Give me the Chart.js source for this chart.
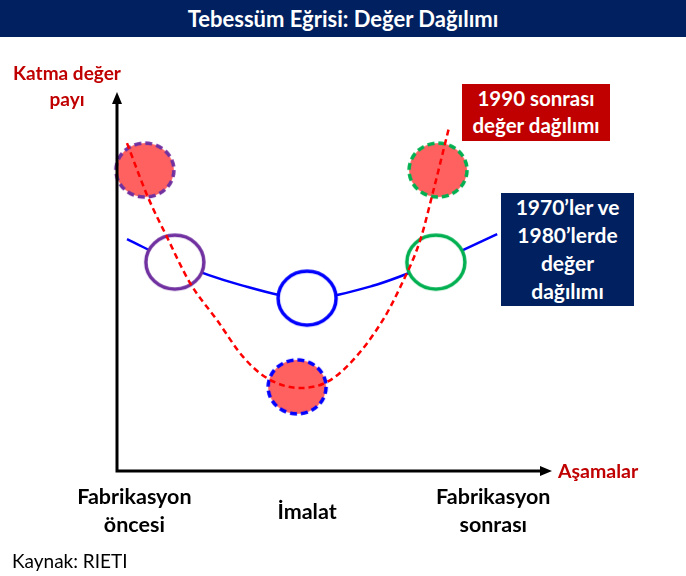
<!DOCTYPE html>
<html lang="tr">
<head>
<meta charset="utf-8">
<title>Tebessüm Eğrisi: Değer Dağılımı</title>
<script src="https://cdn.jsdelivr.net/npm/chart.js@4.4.1/dist/chart.umd.min.js"></script>
<style>
  html, body { margin: 0; padding: 0; background: #fff; }
  body { width: 686px; height: 576px; position: relative; overflow: hidden; font-family: Lato, "Open Sans", sans-serif; }
  #wrap { position: absolute; left: 0; top: 0; width: 686px; height: 576px; }
  .bar { position: absolute; left: 0; top: 0; width: 686px; height: 37px; background: #002060; color: #fff;
         font-weight: 700; font-size: 22px; line-height: 38px; text-align: center; }
  .lbl { position: absolute; font-weight: 700; text-align: center; white-space: nowrap; }
  .red { color: #c00000; }
  .box { position: absolute; color: #fff; font-weight: 700; text-align: center; font-size: 21px; }
  .src { position: absolute; left: 12px; top: 549px; font-size: 19px; color: #000; }
</style>
</head>
<body>
<div id="wrap"><canvas id="smile" width="686" height="576"></canvas></div>
<div class="bar">Tebessüm Eğrisi: Değer Dağılımı</div>
<div class="lbl red" style="left:2px;top:60px;width:130px;font-size:19px;line-height:26px">Katma değer<br>payı</div>
<div class="lbl red" style="left:558px;top:459px;font-size:19.5px">Aşamalar</div>
<div class="box" style="left:462px;top:84px;width:148px;height:57px;background:#c00000;line-height:27px;padding-top:1px;box-sizing:border-box;font-size:20.5px">1990 sonrası<br>değer dağılımı</div>
<div class="box" style="left:501px;top:193px;width:133px;height:113px;background:#002060;line-height:28px;padding-top:0px;box-sizing:border-box">1970’ler ve<br>1980’lerde<br>değer<br>dağılımı</div>
<div id="stages"></div>
<div class="src">Kaynak: RIETI</div>
<script>
// stage names under the x axis and where they sit on the 0-100 axis
const stageLabels = [['Fabrikasyon', 'öncesi'], ['İmalat'], ['Fabrikasyon', 'sonrası']];
const stageLabelX = [4, 43.7, 86.5];

// 1970s-80s value curve (blue, flat smile)
const oldCurveX = [2.3, 13.3, 28.3, 43.7, 58.6, 73.3, 87.4];
const oldCurveY = [61.2, 55.1, 49.1, 45.6, 48.8, 55.1, 62.5];
// post-1990 value curve (red dashed, deep smile)
const newCurveX = [2.3, 7.1, 11.5, 16.8, 23.0, 29.0, 34.5, 42.1, 48.3, 54.3, 61.1, 65.1, 69.7, 72.6, 76.3];
const newCurveY = [86.5, 72.3, 61.7, 49.6, 39.8, 30.1, 24.5, 21.9, 23.5, 29.3, 39.8, 48.5, 60.9, 73.4, 90.5];

// stage markers: open circles (old), filled circles (new)
const oldStageX = [13.3, 43.7, 73.3];
const oldStageY = [55.1, 45.6, 55.1];
const newStageX = [6.4, 41.4, 73.8];
const newStageY = [79.4, 22.2, 79.4];

const stageColors = ['#7030a0', '#0000ff', '#00b050'];

function pts(xs, ys) { return xs.map((x, i) => ({ x, y: ys[i] })); }

// ellipse marker drawn on a small canvas, used as the point style
function ringImg(stroke, fill, dashed) {
  const rx = 29, ry = 27, lw = 3.5;
  const c = document.createElement('canvas');
  c.width = Math.ceil(2 * rx + lw + 4); c.height = Math.ceil(2 * ry + lw + 4);
  const g = c.getContext('2d');
  g.beginPath();
  g.ellipse(c.width / 2, c.height / 2, rx, ry, 0, 0, Math.PI * 2);
  g.fillStyle = fill; g.fill();
  g.lineWidth = lw; g.strokeStyle = stroke;
  if (dashed) g.setLineDash([7, 4]);
  g.stroke();
  return c;
}

const oldImgs = stageColors.map(c => ringImg(c, '#ffffff', false));
const newImgs = stageColors.map(c => ringImg(c, '#ff6161', true));

// black axes with arrow heads, drawn over the data
const axesPlugin = {
  id: 'axes',
  afterDatasetsDraw(chart) {
    const { ctx, chartArea: a } = chart;
    ctx.save();
    ctx.strokeStyle = '#000'; ctx.fillStyle = '#000'; ctx.lineWidth = 3;
    ctx.beginPath();
    ctx.moveTo(a.left, a.top + 10); ctx.lineTo(a.left, a.bottom); ctx.lineTo(a.right - 10, a.bottom);
    ctx.stroke();
    ctx.beginPath();
    ctx.moveTo(a.left, a.top); ctx.lineTo(a.left - 5, a.top + 12); ctx.lineTo(a.left + 5, a.top + 12); ctx.closePath();
    ctx.fill();
    ctx.beginPath();
    ctx.moveTo(a.right, a.bottom); ctx.lineTo(a.right - 12, a.bottom - 5); ctx.lineTo(a.right - 12, a.bottom + 5); ctx.closePath();
    ctx.fill();
    ctx.restore();
  }
};

const chart = new Chart(document.getElementById('smile'), {
  type: 'scatter',
  data: {
    datasets: [
      { label: 'Yeni eğri', data: pts(newCurveX, newCurveY), showLine: true, borderColor: '#ff0000', borderWidth: 2.5,
        borderDash: [6, 4], pointRadius: 0, tension: 0.4, cubicInterpolationMode: 'monotone', order: 1, clip: false },
      { label: '1990 sonrası', data: pts(newStageX, newStageY), pointStyle: newImgs, pointRadius: 28, order: 2, clip: false },
      { label: '1970-80', data: pts(oldStageX, oldStageY), pointStyle: oldImgs, pointRadius: 28, order: 3, clip: false },
      { label: 'Eski eğri', data: pts(oldCurveX, oldCurveY), showLine: true, borderColor: '#0000ff', borderWidth: 2.5,
        pointRadius: 0, tension: 0.4, cubicInterpolationMode: 'monotone', order: 4, clip: false }
    ]
  },
  options: {
    responsive: false, animation: false, devicePixelRatio: 1,
    layout: { padding: { left: 117, right: 134, top: 92, bottom: 105 } },
    scales: {
      x: { type: 'linear', min: 0, max: 100, display: false },
      y: { type: 'linear', min: 0, max: 100, display: false }
    },
    plugins: { legend: { display: false }, tooltip: { enabled: false } },
    events: []
  },
  plugins: [axesPlugin]
});

// place the stage names through the x scale
const holder = document.getElementById('stages');
const xs = chart.scales.x;
stageLabels.forEach((lines, i) => {
  const d = document.createElement('div');
  d.className = 'lbl';
  d.style.cssText = 'width:160px;font-size:21.5px;line-height:28px;color:#000;top:' + (lines.length > 1 ? 482 : 497) + 'px;left:' +
    (xs.getPixelForValue(stageLabelX[i]) - 80) + 'px';
  d.innerHTML = lines.join('<br>');
  holder.appendChild(d);
});
</script>
</body>
</html>
